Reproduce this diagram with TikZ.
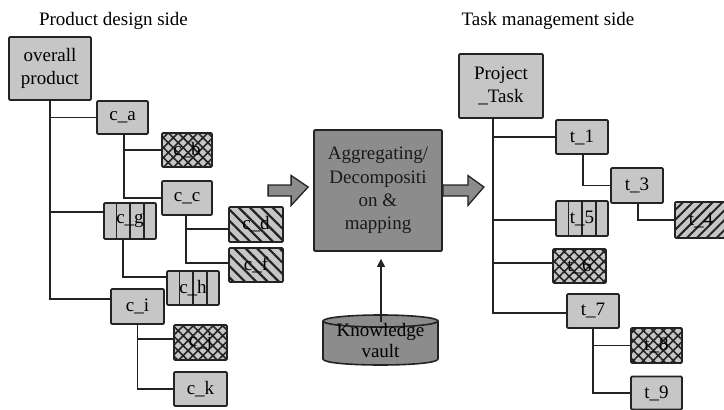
\documentclass[tikz,border=0pt]{standalone}
\usepackage{fontspec}
\setmainfont{Liberation Serif}
\usetikzlibrary{patterns.meta,calc,arrows.meta}
\definecolor{lgray}{RGB}{198,198,198}
\definecolor{dgray}{RGB}{140,140,140}
\definecolor{ink}{RGB}{35,35,35}
\tikzset{
  box/.style={draw=ink, line width=1.8pt, fill=lgray, rounded corners=1.2pt, inner sep=0pt,
    font=\fontsize{19}{23.3}\selectfont, align=center, text=black},
  cross/.style={box, preaction={fill=lgray}, pattern={Hatch[angle=45,distance=7pt,line width=1.6pt]}, pattern color=ink},
  bslash/.style={box, preaction={fill=lgray}, pattern={Lines[angle=-45,distance=8pt,line width=2.2pt]}, pattern color=ink},
  fslash/.style={box, preaction={fill=lgray}, pattern={Lines[angle=45,distance=7pt,line width=2pt]}, pattern color=ink},
  vbars/.style={box, path picture={\foreach \f in {0.24,0.5,0.77}{\draw[ink,line width=1.8pt]
      ($(path picture bounding box.north west)!\f!(path picture bounding box.north east)$) --
      ($(path picture bounding box.south west)!\f!(path picture bounding box.south east)$);}}},
  conn/.style={draw=ink, line width=1.4pt},
  title/.style={font=\fontsize{19}{23}\selectfont, text=black, anchor=base, inner sep=0pt},
  blockarrow/.style={fill=dgray, draw=ink, line width=1.3pt, line join=miter},
}
\begin{document}
\begin{tikzpicture}[x=1pt,y=-1pt]
\useasboundingbox (0,0) rectangle (724,410);
\fill[white] (0,0) rectangle (724,410);

% titles
\node[title] (tl) at (113.5,25) {Product design side};
\node[title] (tr) at (548,25) {Task management side};

% left tree
\node[box, minimum width=82pt, minimum height=63pt] (op) at (50,68.5) {overall\\product};
\node[box, minimum width=51pt, minimum height=33pt] (ca) at (122.5,117.5) {c\_a};
\node[cross, minimum width=50pt, minimum height=34pt] (cb) at (187,150) {c\_b};
\node[box, minimum width=50pt, minimum height=34pt] (cc) at (187,198) {c\_c};
\node[bslash, minimum width=54pt, minimum height=35pt] (cd) at (256,224.5) {c\_d};
\node[bslash, minimum width=54pt, minimum height=34pt] (cf) at (256,265) {c\_f};
\node[vbars, minimum width=52pt, minimum height=36pt] (cg) at (130,221) {c\_g};
\node[vbars, minimum width=52pt, minimum height=34pt] (ch) at (193,288) {c\_h};
\node[box, minimum width=53pt, minimum height=35pt] (ci) at (137.5,306.5) {c\_i};
\node[cross, minimum width=53pt, minimum height=35pt] (cj) at (200.5,342.5) {c\_j};
\node[box, minimum width=53pt, minimum height=34pt] (ck) at (200.5,389) {c\_k};

\draw[conn] (op.south) |- ([yshift=7.5pt]ci.west);
\draw[conn] (op.south) |- (ca.west);
\draw[conn] (op.south) |- ([yshift=9pt]cg.west);
\draw[conn] ([xshift=1.5pt]ca.south) |- (cb.west);
\draw[conn] ([xshift=1.5pt]ca.south) |- (cc.west);
\draw[conn] ([xshift=-1pt]cc.south) |- ([yshift=-4.5pt]cd.west);
\draw[conn] ([xshift=-1pt]cc.south) |- ([yshift=2pt]cf.west);
\draw[conn] ([xshift=-7pt]cg.south) |- ([yshift=11pt]ch.west);
\draw[conn] (ci.south) |- ([yshift=3.5pt]cj.west);
\draw[conn] (ci.south) |- (ck.west);

% center
\node[box, fill=dgray, minimum width=128pt, minimum height=121pt, text=black!90] (agg) at (378,190.5)
  {Aggregating/\\Decompositi\\on \&\\mapping};

\draw[blockarrow] ($(agg.west)+(-45,-5.5)$) -- ($(agg.west)+(-22,-5.5)$) -- ($(agg.west)+(-22,-15)$)
  -- ($(agg.west)+(-5,-3.5)$) -- ($(agg.west)+(-22,15)$) -- ($(agg.west)+(-22,5.5)$)
  -- ($(agg.west)+(-45,5.5)$) -- cycle;
\draw[blockarrow] ($(agg.east)+(0,-5.5)$) -- ($(agg.east)+(25,-5.5)$) -- ($(agg.east)+(25,-15)$)
  -- ($(agg.east)+(41,-3.5)$) -- ($(agg.east)+(25,15)$) -- ($(agg.east)+(25,5.5)$)
  -- ($(agg.east)+(0,5.5)$) -- cycle;

% knowledge vault cylinder
\coordinate (kvtop) at (380.5,315);
\fill[dgray] (323,321) -- (323,359) .. controls (323,367) and (438,367) .. (438,359) -- (438,321) -- cycle;
\draw[ink, line width=1.6pt, fill=dgray] (380.5,321) ellipse [x radius=57.5, y radius=6];
\draw[ink, line width=1.6pt] (323,321) -- (323,359) .. controls (323,367) and (438,367) .. (438,359) -- (438,321);
\node[font=\fontsize{19}{21}\selectfont, align=center, text=black, inner sep=0pt] (kv) at (380.5,340) {Knowledge\\vault};
\draw[conn, -{Triangle[length=8pt,width=8pt]}] ([xshift=0.5pt,yshift=-7pt]kvtop) -- ([xshift=3pt,yshift=-7pt]agg.south);

% right tree
\node[box, minimum width=84pt, minimum height=64pt] (pt) at (501,86) {Project\\\_Task};
\node[box, minimum width=52pt, minimum height=34pt] (t1) at (582,137) {t\_1};
\node[box, minimum width=52pt, minimum height=35pt] (t3) at (637,185.5) {t\_3};
\node[fslash, minimum width=52pt, minimum height=36pt] (t4) at (701,220) {t\_4};
\node[vbars, minimum width=52pt, minimum height=35pt] (t5) at (582,218.5) {t\_5};
\node[cross, minimum width=53pt, minimum height=34pt] (t6) at (579.5,266) {t\_6};
\node[box, minimum width=52pt, minimum height=34pt] (t7) at (593,311) {t\_7};
\node[cross, minimum width=51pt, minimum height=35pt] (t8) at (656.5,345.5) {t\_8};
\node[box, minimum width=51pt, minimum height=33pt] (t9) at (656.5,393) {t\_9};

\draw[conn] ([xshift=-8pt]pt.south) |- ([yshift=-2pt]t7.west);
\draw[conn] ([xshift=-8pt]pt.south) |- (t1.west);
\draw[conn] ([xshift=-8pt]pt.south) |- ([yshift=-1.5pt]t5.west);
\draw[conn] ([xshift=-8pt]pt.south) |- ([yshift=3pt]t6.west);
\draw[conn] ([xshift=1pt]t1.south) |- (t3.west);
\draw[conn] ([xshift=1pt]t3.south) |- (t4.west);
\draw[conn] (t7.south) |- (t8.west);
\draw[conn] (t7.south) |- (t9.west);
\end{tikzpicture}
\end{document}
